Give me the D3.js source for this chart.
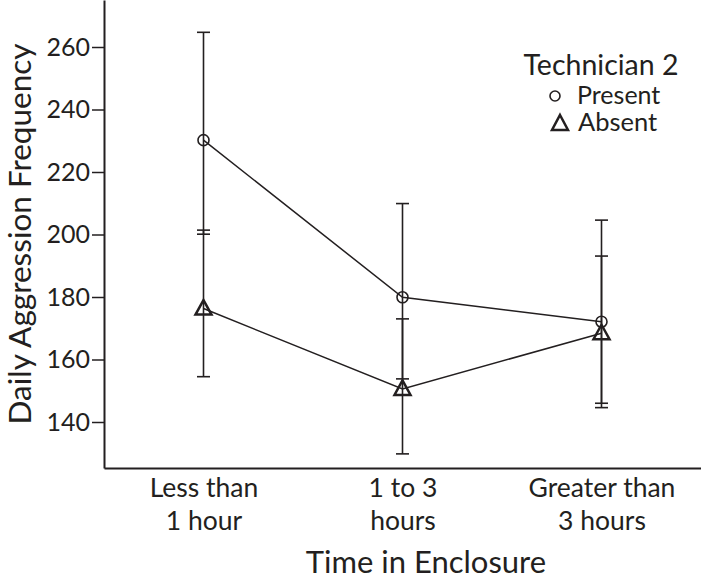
<!DOCTYPE html>
<html>
<head>
<meta charset="utf-8">
<script src="https://cdn.jsdelivr.net/npm/d3@7"></script>
<style>
  body { margin: 0; background: #fff; }
  svg { display: block; }
  text { font-family: Lato, "Open Sans", sans-serif; fill: #231f20; }
</style>
</head>
<body>
<svg id="chart" width="701" height="584"></svg>
<script>
const categories = [["Less than", "1 hour"], ["1 to 3", "hours"], ["Greater than", "3 hours"]];
const catKeys = ["lt1", "1to3", "gt3"];
const presentMean  = [230.2, 179.9, 172.1];
const presentUpper = [264.7, 209.9, 204.6];
const presentLower = [200.1, 153.8, 146.0];
const absentMean   = [176.3, 150.6, 168.4];
const absentUpper  = [201.4, 173.0, 193.1];
const absentLower  = [154.5, 129.8, 144.6];
const yTicks = [140, 160, 180, 200, 220, 240, 260];
const legendTitle = "Technician 2";
const seriesNames = ["Present", "Absent"];

const ink = "#231f20";
const svg = d3.select("#chart");

const x = d3.scalePoint().domain(catKeys).range([104, 701]).padding(0.5);
const y = d3.scaleLinear().domain([125.28, 275.04]).range([468, 0]);

// Y axis
const yAxis = svg.append("g").attr("transform", "translate(104,0)")
  .call(d3.axisLeft(y).tickValues(yTicks).tickSize(12).tickSizeOuter(0).tickPadding(2));
yAxis.select(".domain").attr("stroke", ink).attr("stroke-width", 2);
yAxis.selectAll(".tick line").attr("stroke", ink).attr("stroke-width", 1.5);
yAxis.selectAll(".tick text").attr("font-size", 25).attr("font-family", "Lato").attr("fill", ink);

// X axis
const xAxis = svg.append("g").attr("transform", "translate(0,468)")
  .call(d3.axisBottom(x).tickSize(0).tickSizeOuter(0).tickFormat(() => ""));
xAxis.select(".domain").attr("stroke", ink).attr("stroke-width", 2);
xAxis.selectAll(".tick text").each(function(d, i) {
  const t = d3.select(this).attr("font-size", 26.5).attr("font-family", "Lato").attr("fill", ink).attr("y", 29).attr("dy", 0);
  const lines = categories[i];
  lines.forEach((ln, k) => {
    t.append("tspan").attr("x", 0).attr("dy", k === 0 ? 0 : 33).text(ln);
  });
});

// Axis titles
svg.append("text").attr("x", 426).attr("y", 573).attr("text-anchor", "middle")
  .attr("font-size", 31).text("Time in Enclosure");
svg.append("text").attr("transform", "translate(31,234) rotate(-90)").attr("text-anchor", "middle")
  .attr("font-size", 31.5).text("Daily Aggression Frequency");

// Error bars
const capHalf = 6.5;
function errorBars(upper, lower) {
  const g = svg.append("g").attr("stroke", ink).attr("stroke-width", 1.6).attr("fill", "none");
  catKeys.forEach((k, i) => {
    const cx = x(k);
    g.append("line").attr("x1", cx).attr("x2", cx).attr("y1", y(upper[i])).attr("y2", y(lower[i]));
    g.append("line").attr("x1", cx - capHalf).attr("x2", cx + capHalf).attr("y1", y(upper[i])).attr("y2", y(upper[i]));
    g.append("line").attr("x1", cx - capHalf).attr("x2", cx + capHalf).attr("y1", y(lower[i])).attr("y2", y(lower[i]));
  });
}
errorBars(presentUpper, presentLower);
errorBars(absentUpper, absentLower);

// Lines
const line = d3.line().x((d, i) => x(catKeys[i])).y(d => y(d));
svg.append("path").datum(presentMean).attr("d", line).attr("fill", "none").attr("stroke", ink).attr("stroke-width", 1.5);
svg.append("path").datum(absentMean).attr("d", line).attr("fill", "none").attr("stroke", ink).attr("stroke-width", 1.5);

// Markers
const triPath = "M0,-8.5L8,6L-8,6Z";
svg.append("g").selectAll("circle").data(presentMean).join("circle")
  .attr("cx", (d, i) => x(catKeys[i])).attr("cy", d => y(d)).attr("r", 5.5)
  .attr("fill", "none").attr("stroke", ink).attr("stroke-width", 1.6);
svg.append("g").selectAll("path").data(absentMean).join("path")
  .attr("transform", (d, i) => `translate(${x(catKeys[i])},${y(d)})`).attr("d", triPath)
  .attr("fill", "none").attr("stroke", ink).attr("stroke-width", 2.5).attr("stroke-linejoin", "miter");

// Legend
svg.append("text").attr("x", 601).attr("y", 75).attr("text-anchor", "middle").attr("font-size", 28.5).text(legendTitle);
svg.append("circle").attr("cx", 555).attr("cy", 96).attr("r", 5).attr("fill", "none").attr("stroke", ink).attr("stroke-width", 1.6);
svg.append("text").attr("x", 577).attr("y", 104).attr("font-size", 25).text(seriesNames[0]);
svg.append("path").attr("transform", "translate(560,124)").attr("d", "M0,-9L8,6L-8,6Z")
  .attr("fill", "none").attr("stroke", ink).attr("stroke-width", 2.5);
svg.append("text").attr("x", 578).attr("y", 131).attr("font-size", 25.5).text(seriesNames[1]);
</script>
</body>
</html>
